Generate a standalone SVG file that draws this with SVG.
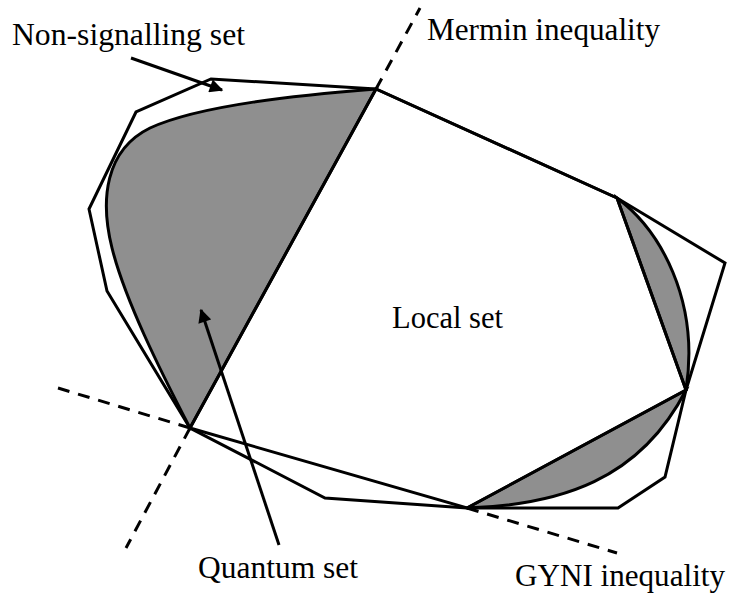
<svg xmlns="http://www.w3.org/2000/svg" width="729" height="593" viewBox="0 0 729 593">
<defs>
<style>
.t{font-family:"Liberation Serif","Times New Roman",serif;font-size:31px;fill:#000}
.ln{fill:none;stroke:#000;stroke-width:3;stroke-linejoin:miter}
.q{fill:#8f8f8f;stroke:#000;stroke-width:3;stroke-linejoin:miter}
.d{fill:none;stroke:#000;stroke-width:3;stroke-dasharray:12 9}
.ar{fill:none;stroke:#000;stroke-width:3}
</style>
<marker id="ah" viewBox="0 0 10 10" refX="9" refY="5" markerWidth="5" markerHeight="4.5" orient="auto" markerUnits="strokeWidth">
<path d="M0,0 L10,5 L0,10 Z" fill="#000"/>
</marker>
</defs>
<rect width="729" height="593" fill="#fff"/>
<g id="nonsignalling">
<polygon class="ln" points="376,89 211,79 136,112 89,209 107,291 190,428 325,498 467,508 618,508 665,477 686,390 725,263 617,198"/>
</g>
<g id="quantum">
<path class="q" d="M376,89 C300,95 200,105 150,128 C105,150 100,200 112,248 C125,300 160,370 190,428 Z"/>
<path class="q" d="M617,198 C660,230 700,300 686,390 Z"/>
<path class="q" d="M467,508 C560,505 640,480 686,390 Z"/>
</g>
<g id="local">
<polygon class="ln" points="376,89 617,198 686,390 467,508 190,428"/>
</g>
<g id="connectors">
<line class="d" x1="376" y1="89" x2="420" y2="8"/>
<line class="d" x1="190" y1="428" x2="126" y2="548"/>
<line class="d" x1="190" y1="428" x2="58" y2="388"/>
<line class="d" x1="467" y1="508" x2="617" y2="553"/>
<line class="ar" x1="131" y1="58" x2="222" y2="90" marker-end="url(#ah)"/>
<line class="ar" x1="279" y1="545" x2="201" y2="310" marker-end="url(#ah)"/>
</g>
<g id="labels">
<text class="t" x="12" y="45" textLength="233" lengthAdjust="spacingAndGlyphs">Non-signalling set</text>
<text class="t" x="427" y="40" textLength="233" lengthAdjust="spacingAndGlyphs">Mermin inequality</text>
<text class="t" x="392" y="328" textLength="111" lengthAdjust="spacingAndGlyphs">Local set</text>
<text class="t" x="198" y="578" textLength="160" lengthAdjust="spacingAndGlyphs">Quantum set</text>
<text class="t" x="515" y="586" textLength="210" lengthAdjust="spacingAndGlyphs">GYNI inequality</text>
</g>
</svg>
